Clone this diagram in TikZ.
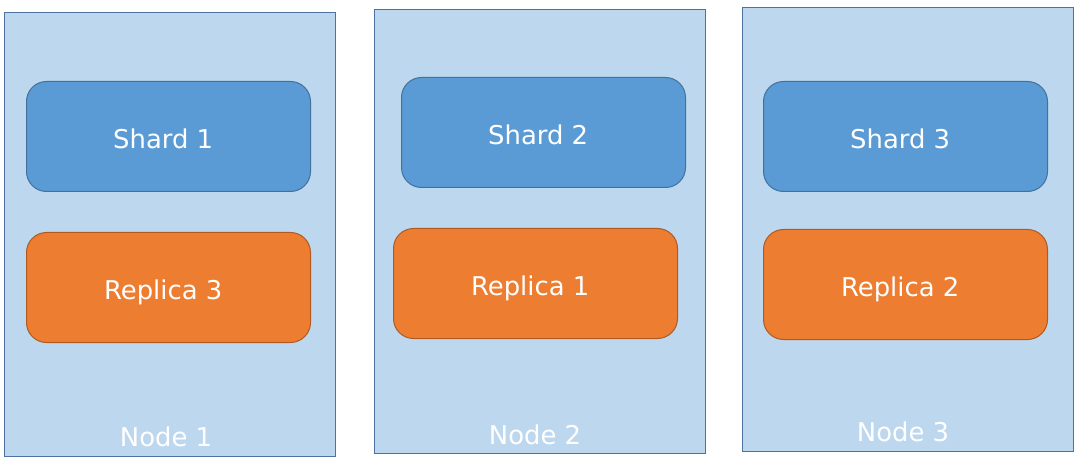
\documentclass[tikz,border=0pt]{standalone}
\usepackage{fontspec}
\setmainfont{DejaVu Sans}
\usepackage{tikz}
\usepackage{xcolor}

\definecolor{hostfill}{HTML}{BDD7EE}
\definecolor{hostline}{HTML}{4F71A0}
\definecolor{shardfill}{HTML}{5B9BD5}
\definecolor{shardline}{HTML}{41719C}
\definecolor{replfill}{HTML}{ED7D31}
\definecolor{replline}{HTML}{AE5A21}

\tikzset{
  host/.style={draw=hostline,fill=hostfill,line width=0.75pt,inner sep=0pt,anchor=north west,
    minimum width=331*0.75pt,minimum height=444*0.75pt},
  part/.style={line width=0.75pt,rounded corners=15pt,anchor=north west,
    minimum width=284*0.75pt,minimum height=110*0.75pt},
  shard/.style={part,draw=shardline,fill=shardfill},
  replica/.style={part,draw=replline,fill=replfill},
  hostlabel/.style={text=white,font=\fontsize{19.4}{23}\selectfont},
  parttext/.style={hostlabel,text depth=0pt,xshift=-4pt,yshift=-1.5pt}
}

\begin{document}
\begin{tikzpicture}[x=0.75pt,y=-0.75pt]
\useasboundingbox (0,0) rectangle (1085,463);
% servers
\node[host] (node1) at (4,12) {};
\node[host] (node2) at (374,9) {};
\node[host] (node3) at (742,7) {};
\node[hostlabel] (lbl1) at (166,437) {Node 1};
\node[hostlabel] (lbl2) at (535,435) {Node 2};
\node[hostlabel] (lbl3) at (903,432) {Node 3};
% primaries
\node[shard] (s1) at (26,81) {};
\node[shard] (s2) at (401,77) {};
\node[shard] (s3) at (763,81) {};
\node[parttext] (s1txt) at (s1.center) {Shard 1};
\node[parttext] (s2txt) at (s2.center) {Shard 2};
\node[parttext] (s3txt) at (s3.center) {Shard 3};
% copies
\node[replica] (r3) at (26,232) {};
\node[replica] (r1) at (393,228) {};
\node[replica] (r2) at (763,229) {};
\node[parttext] (r3txt) at (r3.center) {Replica 3};
\node[parttext] (r1txt) at (r1.center) {Replica 1};
\node[parttext] (r2txt) at (r2.center) {Replica 2};
\end{tikzpicture}
\end{document}
